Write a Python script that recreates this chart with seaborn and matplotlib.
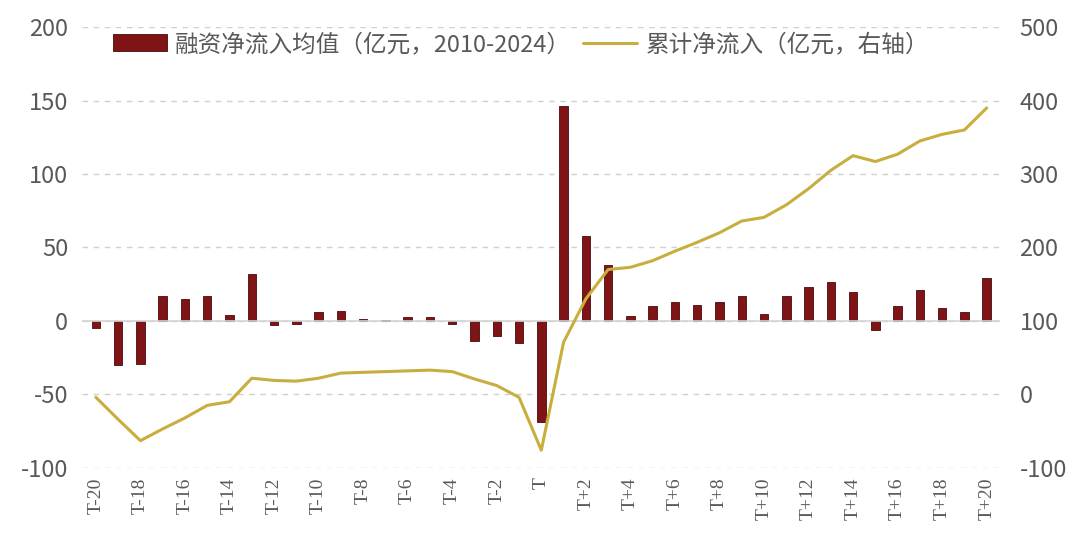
import matplotlib
matplotlib.use("Agg")
import matplotlib.pyplot as plt
import seaborn as sns
import pandas as pd
import numpy as np

# event-day labels T-20 ... T ... T+20
days = [f"T-{i}" for i in range(20, 0, -1)] + ["T"] + [f"T+{i}" for i in range(1, 21)]

# average net financing inflow (left axis)
avg_inflow = [-5, -30, -29, 17, 15, 17, 4, 32, -3, -2, 6, 7, 1.5, 0.5, 3, 3, -2,
              -14, -10, -15, -69, 146, 58, 38, 3.5, 10, 13, 11, 13, 17, 4.5,
              17, 23, 26.5, 20, -6, 10, 21, 8.5, 6, 29.5]

# cumulative net inflow (right axis)
cum_inflow = [-4, -34, -63, -47, -32, -15, -10, 22, 19, 18, 22, 29, 30, 31, 32, 33, 31,
              21, 12, -4, -76, 71, 130, 170, 173, 182, 195, 207, 220, 236, 241,
              258, 280, 305, 325, 317, 327, 345, 354, 360, 390]

bar_label = "融资净流入均值（亿元，2010-2024）"
line_label = "累计净流入（亿元，右轴）"

df = pd.DataFrame({"day": days, "avg": avg_inflow, "cum": cum_inflow, "pos": np.arange(len(days))})

sns.set_theme(style="white")
plt.rcParams["font.family"] = ["Noto Sans CJK SC", "DejaVu Sans"]
plt.rcParams["axes.unicode_minus"] = False

grey = "#595959"
bar_col = "#7f1416"
line_col = "#c8ae3e"

fig = plt.figure(figsize=(10.8, 5.53), dpi=100)
ax = fig.add_axes([0.076, 0.154, 0.850, 0.797])

sns.barplot(data=df, x="day", y="avg", order=days, color=bar_col, width=0.38,
            saturation=1, edgecolor="#4a0a0a", linewidth=0.6, ax=ax, label=bar_label)
ax.set_ylim(-100, 200)
ax.set_yticks(range(-100, 201, 50))
ax.yaxis.grid(True, linestyle=(0, (4, 4)), color="#d0d0d0", linewidth=1)
ax.axhline(0, color="#d4d4d4", linewidth=1.2, zorder=1)
ax.set_xlim(-0.62, 40.6)
ax.set_xlabel("")
ax.set_ylabel("")
ax.set_xticks(range(0, 41, 2))
ax.set_xticklabels(days[::2], rotation=90, fontsize=14, color=grey, family="Liberation Serif")
ax.tick_params(axis="y", labelsize=17, colors=grey, pad=10, length=0)
ax.tick_params(axis="x", length=0, pad=7)
for s in ax.spines.values():
    s.set_visible(False)

ax2 = ax.twinx()
sns.lineplot(data=df, x="pos", y="cum", color=line_col, linewidth=2.2, ax=ax2, label=line_label)
ax2.set_ylim(-100, 500)
ax2.set_yticks(range(-100, 501, 100))
ax2.set_ylabel("")
ax2.set_xlabel("")
ax2.tick_params(axis="y", labelsize=17, colors=grey, pad=14, length=0)
ax2.grid(False)
for s in ax2.spines.values():
    s.set_visible(False)
ax2.set_xlim(-0.62, 40.6)

h1, l1 = ax.get_legend_handles_labels()
h2, l2 = ax2.get_legend_handles_labels()
if ax2.get_legend() is not None:
    ax2.get_legend().remove()
if ax.get_legend() is not None:
    ax.get_legend().remove()
ax2.legend(h1 + h2, l1 + l2, ncol=2, frameon=False, loc="upper left",
           bbox_to_anchor=(0.01, 1.035), fontsize=17, labelcolor=grey,
           handlelength=2.3, handletextpad=0.35, columnspacing=0.5)

fig.savefig("out.png", dpi=100, facecolor="white")
